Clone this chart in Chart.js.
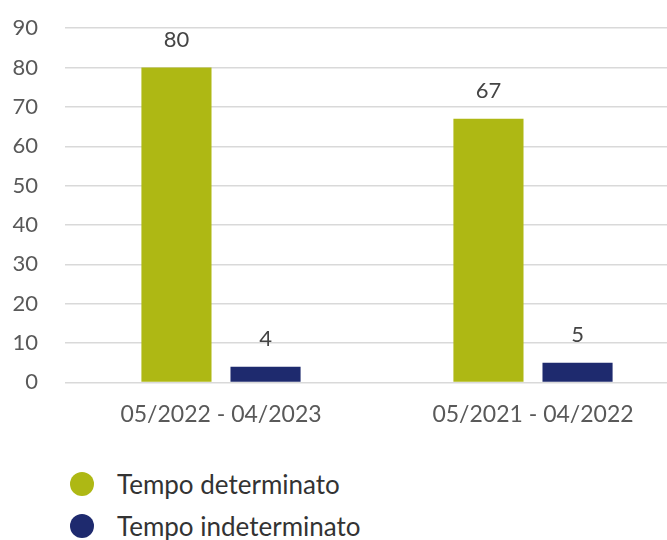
<!DOCTYPE html>
<html>
<head>
<meta charset="utf-8">
<script src="https://cdn.jsdelivr.net/npm/chart.js@4"></script>
<style>
  html, body { margin: 0; background: #fff; font-family: Lato, sans-serif; overflow: hidden; }
  #pagina { width: 667px; height: 540px; overflow: hidden; }
  #box { position: relative; width: 689px; height: 450px; margin-top: -12px; }
  #legenda { margin-left: 70px; margin-top: 25px; }
  .voce { display: flex; align-items: center; height: 42px; font-size: 26px; color: #333; }
  .pallino { width: 24px; height: 24px; border-radius: 50%; margin-right: 23px; }
</style>
</head>
<body>
<div id="pagina">
  <div id="box"><canvas id="grafica"></canvas></div>
  <div id="legenda"></div>
</div>
<script>
const periodi = ['05/2022 - 04/2023', '05/2021 - 04/2022'];
const determinato = [80, 67];
const indeterminato = [4, 5];
const serie = ['Tempo determinato', 'Tempo indeterminato'];
const colori = ['#aeb814', '#1e2a6e'];
const tacche = [0, 10, 20, 30, 40, 50, 60, 70, 80, 90];

// etichette sopra le barre
const etichette = {
  id: 'etichette',
  afterDatasetsDraw(chart) {
    const ctx = chart.ctx;
    ctx.save();
    ctx.font = '22px Lato, sans-serif';
    ctx.fillStyle = '#444';
    ctx.textAlign = 'center';
    ctx.textBaseline = 'bottom';
    chart.data.datasets.forEach((ds, i) => {
      chart.getDatasetMeta(i).data.forEach((bar, j) => {
        ctx.fillText(ds.data[j], bar.x, bar.y - 17);
      });
    });
    ctx.restore();
  }
};

const chart = new Chart(document.querySelector('#grafica'), {
  type: 'bar',
  data: {
    labels: periodi,
    datasets: [
      { label: serie[0], data: determinato, backgroundColor: colori[0] },
      { label: serie[1], data: indeterminato, backgroundColor: colori[1] }
    ]
  },
  options: {
    responsive: true,
    maintainAspectRatio: false,
    animation: false,
    categoryPercentage: 0.571,
    barPercentage: 0.787,
    layout: { padding: 0 },
    plugins: { legend: { display: false }, tooltip: { enabled: false } },
    scales: {
      x: {
        grid: { display: false },
        border: { display: false },
        ticks: { color: '#595959', font: { family: 'Lato', size: 23 }, padding: 10 }
      },
      y: {
        min: 0, max: 90,
        afterBuildTicks: axis => { axis.ticks = tacche.map(v => ({ value: v })); },
        afterFit: axis => { axis.width = 65; },
        grid: { color: '#d9d9d9', lineWidth: 1.5, drawTicks: false },
        border: { display: false },
        ticks: { color: '#595959', font: { family: 'Lato', size: 22 }, padding: 27 }
      }
    }
  },
  plugins: [etichette]
});

const legenda = document.querySelector('#legenda');
serie.forEach((nome, i) => {
  const riga = document.createElement('div');
  riga.className = 'voce';
  riga.innerHTML = '<span class="pallino" style="background:' + colori[i] + '"></span>' + nome;
  legenda.appendChild(riga);
});
</script>
</body>
</html>
